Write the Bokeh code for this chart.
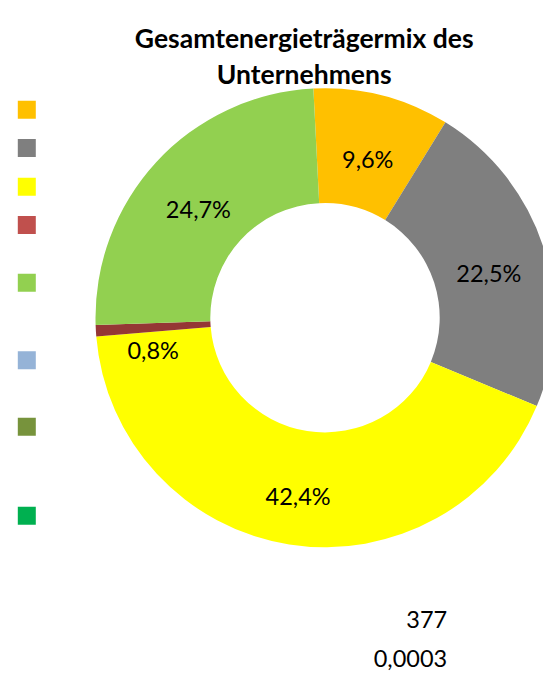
import math
from bokeh.plotting import figure
from bokeh.models import Range1d, ColumnDataSource
from bokeh.core.properties import value
from bokeh.embed import file_html
from bokeh.resources import INLINE

# ---- data ----
title_lines = ["Gesamtenergieträgermix des", "Unternehmens"]
shares = [9.6, 22.5, 42.4, 0.8, 24.7, 0.0, 0.0, 0.0]
slice_colors = ["#FFC000", "#7F7F7F", "#FFFF00", "#953735", "#92D050", "#95B3D7", "#77933C", "#00B050"]
legend_colors = ["#FFC000", "#7F7F7F", "#FFFF00", "#C0504D", "#92D050", "#95B3D7", "#77933C", "#00B050"]
extra_values = ["377", "0,0003"]

# ---- layout (image px, y downwards) ----
W, H = 543, 671
REF_H = 679
def Y(ys):
    return REF_H - ys

CX, CY = 324.5, 317.2
R_OUT, R_IN = 229.5, 114.7
START_DEG = -2.9  # first slice start, clockwise from 12 o'clock
FONT = "Lato"

p = figure(width=W, height=H, output_backend="svg",
           toolbar_location=None, x_axis_location=None, y_axis_location=None,
           min_border=0, min_border_left=0, min_border_right=0,
           min_border_top=0, min_border_bottom=0)
p.x_range = Range1d(0, W)
p.y_range = Range1d(REF_H - H, REF_H)
p.grid.visible = False
p.outline_line_color = None
p.background_fill_color = "white"
p.border_fill_color = "white"

total = sum(shares)
starts, ends, cols, lx, ly, labels, loffs = [], [], [], [], [], [], []
cum = 0.0
label_dy = {3: 14}  # manual nudge of the small slice label (screen px, downwards)
for i, v in enumerate(shares):
    t0 = math.radians(START_DEG + 360 * cum / total)
    t1 = math.radians(START_DEG + 360 * (cum + v) / total)
    cum += v
    if v <= 0:
        continue
    starts.append(math.pi / 2 - t0)
    ends.append(math.pi / 2 - t1)
    cols.append(slice_colors[i])
    tm = (t0 + t1) / 2
    rm = (R_OUT + R_IN) / 2
    lx.append(CX + rm * math.sin(tm))
    ly.append(Y(CY) + rm * math.cos(tm))
    labels.append(f"{v:.1f}%".replace(".", ","))
    loffs.append(8.3 + label_dy.get(i, 0))

src = ColumnDataSource(dict(s=starts, e=ends, c=cols))
p.annular_wedge(x=CX, y=Y(CY), inner_radius=R_IN, outer_radius=R_OUT,
                start_angle="s", end_angle="e", direction="clock",
                fill_color="c", line_color=None, source=src)

lsrc = ColumnDataSource(dict(x=lx, y=ly, t=labels, off=loffs))
p.text(x="x", y="y", text="t", y_offset="off", source=lsrc,
       text_font=value(FONT), text_font_size="23.5px", text_color="black",
       text_align="center", text_baseline="alphabetic")

# title
p.text(x=[303.7, 303.7], y=[Y(37.3), Y(73.3)], text=title_lines,
       text_font=value(FONT), text_font_size="26.5px", text_font_style="bold",
       text_color="black", text_align="center", text_baseline="alphabetic")

# legend squares (no labels)
leg_y = [109.2, 147.5, 186.3, 224.5, 282.3, 359.7, 426.3, 515.3]
p.rect(x=[26.3] * len(leg_y), y=[Y(v) for v in leg_y], width=18, height=18,
       fill_color=legend_colors, line_color=None)

# extra numbers below
p.text(x=[446.7, 446.7], y=[Y(618.5), Y(657.5)], text=extra_values,
       text_font=value(FONT), text_font_size="23.5px", text_color="black",
       text_align="right", text_baseline="alphabetic")

open("out.html", "w").write(file_html(p, INLINE))
